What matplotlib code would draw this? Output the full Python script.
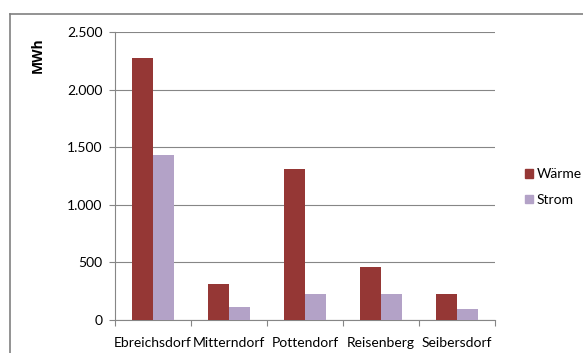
import matplotlib
matplotlib.use("Agg")
import matplotlib.pyplot as plt
from matplotlib.lines import Line2D
import numpy as np
from matplotlib.ticker import FuncFormatter

categories = ["Ebreichsdorf", "Mitterndorf", "Pottendorf", "Reisenberg", "Seibersdorf"]
waerme = [2275, 310, 1310, 462, 222]
strom = [1430, 115, 222, 230, 95]
series_names = ["Wärme", "Strom"]
yticks = [0, 500, 1000, 1500, 2000, 2500]

plt.rcParams['font.family'] = ['Lato', 'DejaVu Sans']

W, H = 583, 353
fig = plt.figure(figsize=(W/100, H/100), dpi=100)
ax = fig.add_axes([115/W, 1-320/H, (495-115)/W, (320-32)/H])

x = np.arange(len(categories))
bw = 0.28
c1, c2 = "#953735", "#B3A2C7"
ax.bar(x - bw/2, waerme, bw, color=c1, label=series_names[0], zorder=3)
ax.bar(x + bw/2, strom, bw, color=c2, label=series_names[1], zorder=3)

ax.set_xlim(-0.5, len(categories)-0.5)
ax.set_ylim(0, 2500)
ax.set_yticks(yticks)
ax.yaxis.set_major_formatter(FuncFormatter(lambda v, p: f"{int(v):,}".replace(",", ".")))
ax.set_xticks(x)
ax.set_xticklabels(categories)
ax.set_xticks(np.arange(len(categories)+1) - 0.5, minor=True)
ax.tick_params(axis='x', which='major', length=0, pad=12, labelsize=10, colors="#000000")
ax.tick_params(axis='x', which='minor', length=4, color="#868686", width=0.8)
ax.tick_params(axis='y', length=4, color="#868686", width=0.8, labelsize=10, pad=5)
ax.grid(axis='y', color="#868686", linewidth=0.8, zorder=0)
for s in ["top", "right"]:
    ax.spines[s].set_visible(False)
for s in ["left", "bottom"]:
    ax.spines[s].set_color("#868686")
    ax.spines[s].set_linewidth(0.8)

fig.text(38/W, 1-55/H, "MWh", rotation=90, fontsize=10, fontweight='bold',
         family=['Open Sans', 'DejaVu Sans'], ha='center', va='center')

handles = [plt.Rectangle((0, 0), 1, 1, color=c1), plt.Rectangle((0, 0), 1, 1, color=c2)]
fig.legend(handles, series_names, loc='center left', bbox_to_anchor=(512/W, 1-187/H),
           frameon=False, fontsize=10, handlelength=0.6, handleheight=0.6,
           handletextpad=0.3, labelspacing=1.0)

# outer chart border (top and left only visible)
fig.add_artist(Line2D([10/W, 1.0], [1-13.5/H, 1-13.5/H], transform=fig.transFigure, color="#808080", linewidth=1.2))
fig.add_artist(Line2D([10/W, 10/W], [0, 1-13.5/H], transform=fig.transFigure, color="#808080", linewidth=1.2))

fig.savefig("out.png", dpi=100)
